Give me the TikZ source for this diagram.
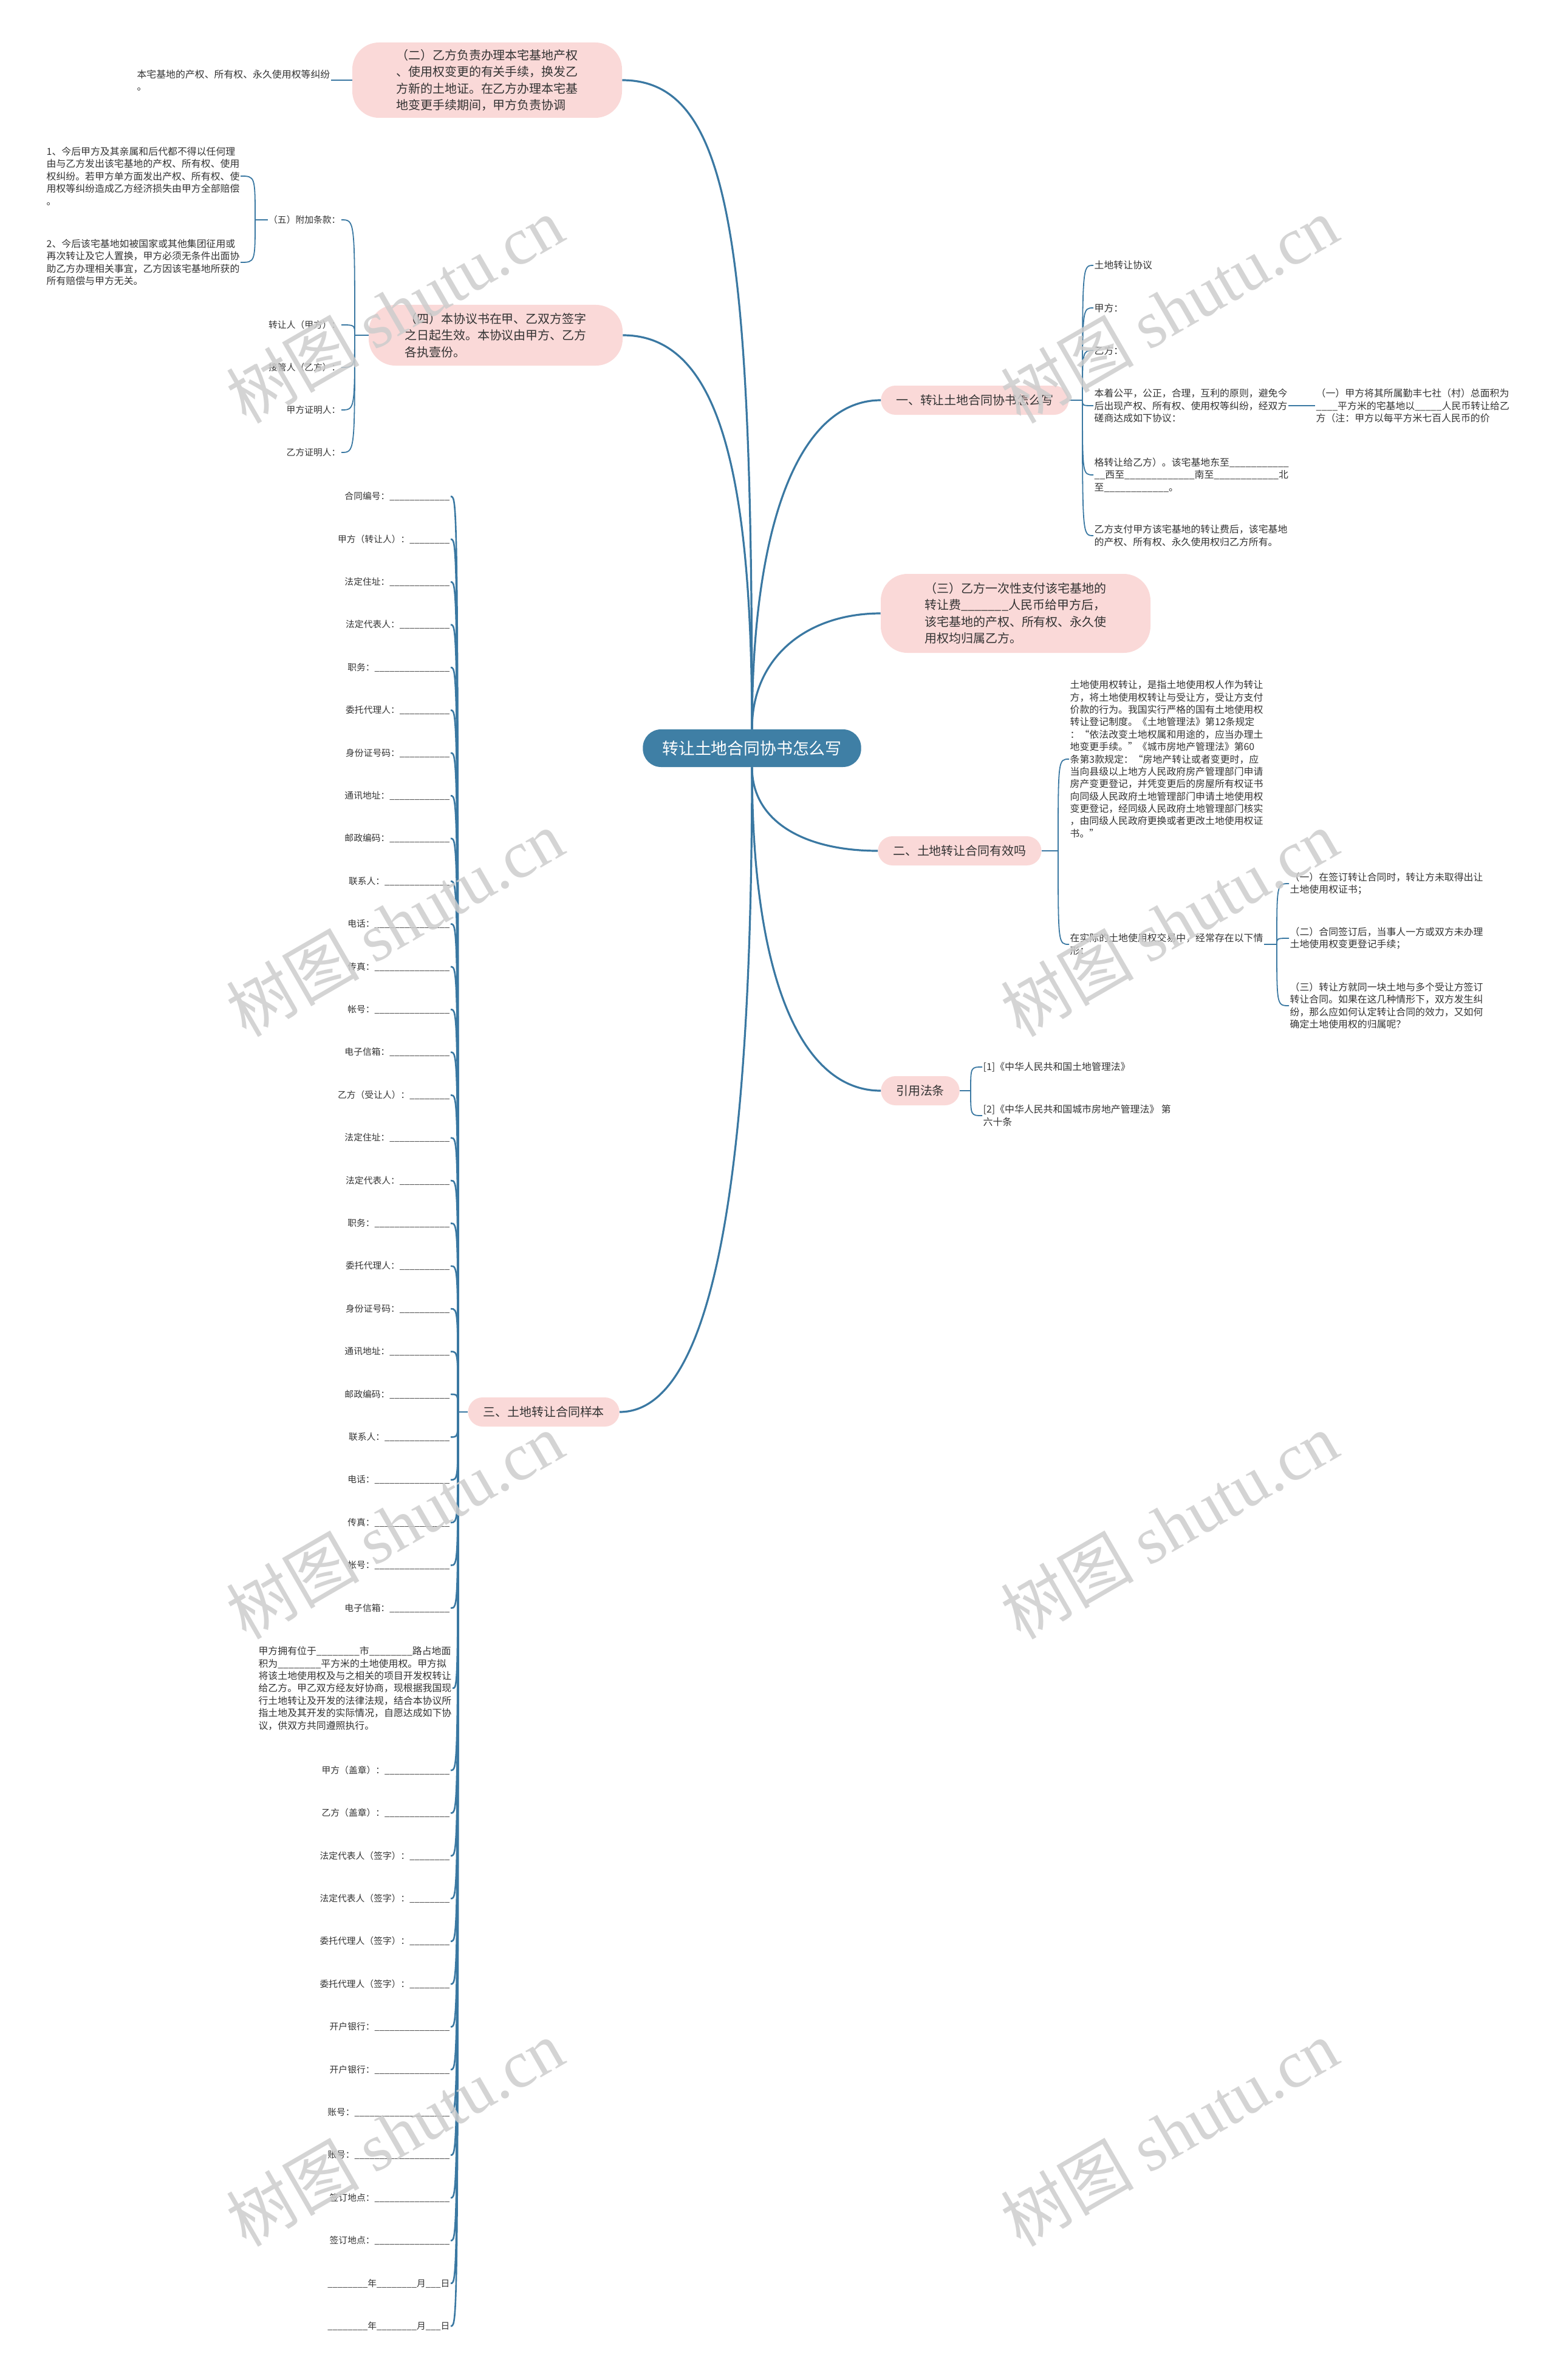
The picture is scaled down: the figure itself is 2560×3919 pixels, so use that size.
\documentclass[tikz,border=0pt]{standalone}
\usepackage{fontspec}
\setmainfont{Noto Sans CJK SC}
\newfontfamily\wmlatin{Liberation Serif}
\usepackage{tikz}
\usepackage{xcolor}
\usetikzlibrary{positioning}
\definecolor{rootblue}{HTML}{3F7FA5}
\definecolor{linkblue}{HTML}{3A78A2}
\definecolor{pinkfill}{HTML}{FAD9D8}
\definecolor{inkgray}{HTML}{333333}
\definecolor{markgray}{HTML}{CDCDCD}
\newcommand{\blank}[1]{\foreach \n in {1,...,#1}{\_}}
\tikzset{
    rootbox/.style={fill=rootblue, text=white, rounded corners=7.5mm, minimum height=15.5mm, inner xsep=8mm, font=\fontsize{19.1}{24}\selectfont},
    topic/.style={fill=pinkfill, text=inkgray, rounded corners=6mm, minimum height=12mm, inner xsep=6.2mm, font=\fontsize{14.2}{19.5}\selectfont},
    topicbox/.style={fill=pinkfill, text=inkgray, rounded corners=11mm, align=left, font=\fontsize{14.2}{19.5}\selectfont},
    leaf/.style={text=inkgray, align=left, inner sep=1pt, font=\fontsize{11.3}{14.5}\selectfont},
    formleaf/.style={text=inkgray, inner sep=1pt, font=\fontsize{10.5}{14}\selectfont},
    branch/.style={draw=linkblue, line width=0.8mm},
    twig/.style={draw=linkblue, line width=0.45mm},
    formtwig/.style={draw=linkblue, line width=0.65mm},
    wmark/.style={text=markgray, rotate=30, text opacity=0.85, font=\fontsize{78}{80}\selectfont}
}

\begin{document}
\begin{tikzpicture}[x=0.25mm, y=-0.25mm]
    \useasboundingbox (0,0) rectangle (2560,3919);
    \fill[white] (0,0) rectangle (2560,3919);

    \node[rootbox] (root) at (1238,1232) {转让土地合同协书怎么写};

    % upper left
    \node[topicbox, minimum width=111mm, minimum height=31mm] (n2) at (802,132) {（二）乙方负责办理本宅基地产权\\、使用权变更的有关手续，换发乙\\方新的土地证。在乙方办理本宅基\\地变更手续期间，甲方负责协调};
    \node[leaf, anchor=east] (n2a) at (545,132) {本宅基地的产权、所有权、永久使用权等纠纷\\。};

    \node[topicbox, minimum width=104.5mm, minimum height=25mm] (n4) at (816,552) {（四）本协议书在甲、乙双方签字\\之日起生效。本协议由甲方、乙方\\各执壹份。};
    \node[formleaf, anchor=east] (n4a) at (562,362) {（五）附加条款：};
    \node[formleaf, anchor=east] (n4b) at (562,535) {转让人（甲方）：};
    \node[formleaf, anchor=east] (n4c) at (562,605) {接管人（乙方）：};
    \node[formleaf, anchor=east] (n4d) at (562,675) {甲方证明人：};
    \node[formleaf, anchor=east] (n4e) at (562,745) {乙方证明人：};
    \node[leaf, anchor=west] (n4a1) at (75,290) {1、今后甲方及其亲属和后代都不得以任何理\\由与乙方发出该宅基地的产权、所有权、使用\\权纠纷。若甲方单方面发出产权、所有权、使\\用权等纠纷造成乙方经济损失由甲方全部赔偿\\。};
    \node[leaf, anchor=west] (n4a2) at (75,432) {2、今后该宅基地如被国家或其他集团征用或\\再次转让及它人置换，甲方必须无条件出面协\\助乙方办理相关事宜，乙方因该宅基地所获的\\所有赔偿与甲方无关。};

    % right side
    \node[topic, anchor=west] (n1) at (1450,659) {一、转让土地合同协书怎么写};
    \node[leaf, anchor=west] (n1a) at (1800,437) {土地转让协议};
    \node[leaf, anchor=west] (n1b) at (1800,507) {甲方：};
    \node[leaf, anchor=west] (n1c) at (1800,577) {乙方：};
    \node[leaf, anchor=west] (n1d) at (1800,668) {本着公平，公正，合理，互利的原则，避免今\\后出现产权、所有权、使用权等纠纷，经双方\\磋商达成如下协议：};
    \node[leaf, anchor=west] (n1e) at (1800,782) {格转让给乙方）。该宅基地东至\blank{11}\\\blank{2}西至\blank{13}南至\blank{12}北\\至\blank{12}。};
    \node[leaf, anchor=west] (n1f) at (1800,882) {乙方支付甲方该宅基地的转让费后，该宅基地\\的产权、所有权、永久使用权归乙方所有。};
    \node[leaf, anchor=west] (n1d1) at (2165,668) {（一）甲方将其所属勤丰七社（村）总面积为\\\blank{4}平方米的宅基地以\blank{5}人民币转让给乙\\方（注：甲方以每平方米七百人民币的价};

    \node[topicbox, minimum width=111mm, minimum height=32.5mm] (n3) at (1672,1010) {（三）乙方一次性支付该宅基地的\\转让费\blank{7}人民币给甲方后，\\该宅基地的产权、所有权、永久使\\用权均归属乙方。};

    \node[topic, anchor=west] (nB) at (1445,1401) {二、土地转让合同有效吗};
    \node[leaf, anchor=west] (nB1) at (1760,1250) {土地使用权转让，是指土地使用权人作为转让\\方，将土地使用权转让与受让方，受让方支付\\价款的行为。我国实行严格的国有土地使用权\\转让登记制度。《土地管理法》第12条规定\\：“依法改变土地权属和用途的，应当办理土\\地变更手续。”《城市房地产管理法》第60\\条第3款规定：“房地产转让或者变更时，应\\当向县级以上地方人民政府房产管理部门申请\\房产变更登记，并凭变更后的房屋所有权证书\\向同级人民政府土地管理部门申请土地使用权\\变更登记，经同级人民政府土地管理部门核实\\，由同级人民政府更换或者更改土地使用权证\\书。”};
    \node[leaf, anchor=west] (nB2) at (1760,1555) {在实际的土地使用权交易中，经常存在以下情\\形：};
    \node[leaf, anchor=west] (nB21) at (2122,1455) {（一）在签订转让合同时，转让方未取得出让\\土地使用权证书；};
    \node[leaf, anchor=west] (nB22) at (2122,1545) {（二）合同签订后，当事人一方或双方未办理\\土地使用权变更登记手续；};
    \node[leaf, anchor=west] (nB23) at (2122,1656) {（三）转让方就同一块土地与多个受让方签订\\转让合同。如果在这几种情形下，双方发生纠\\纷，那么应如何认定转让合同的效力，又如何\\确定土地使用权的归属呢？};

    \node[topic, anchor=west] (nR) at (1450,1796) {引用法条};
    \node[leaf, anchor=west] (nR1) at (1617,1757) {[1]《中华人民共和国土地管理法》};
    \node[leaf, anchor=west] (nR2) at (1617,1837) {[2]《中华人民共和国城市房地产管理法》 第\\六十条};

    % contract sample
    \node[topic, anchor=east] (nS) at (1020,2325) {三、土地转让合同样本};
    \foreach \lbl [count=\i] in {合同编号：\blank{12}, 甲方（转让人）：\blank{8}, 法定住址：\blank{12}, 法定代表人：\blank{10}, 职务：\blank{15}, 委托代理人：\blank{10}, 身份证号码：\blank{10}, 通讯地址：\blank{12}, 邮政编码：\blank{12}, 联系人：\blank{13}, 电话：\blank{15}, 传真：\blank{15}, 帐号：\blank{15}, 电子信箱：\blank{12}, 乙方（受让人）：\blank{8}, 法定住址：\blank{12}, 法定代表人：\blank{10}, 职务：\blank{15}, 委托代理人：\blank{10}, 身份证号码：\blank{10}, 通讯地址：\blank{12}, 邮政编码：\blank{12}, 联系人：\blank{13}, 电话：\blank{15}, 传真：\blank{15}, 帐号：\blank{15}, 电子信箱：\blank{12}}
        \node[formleaf, anchor=east] (s\i) at (742,{817.5+70.4*(\i-1)}) {\lbl};
    \node[leaf, anchor=east] (sp) at (745,2780) {甲方拥有位于\blank{8}市\blank{8}路占地面\\积为\blank{8}平方米的土地使用权。甲方拟\\将该土地使用权及与之相关的项目开发权转让\\给乙方。甲乙双方经友好协商，现根据我国现\\行土地转让及开发的法律法规，结合本协议所\\指土地及其开发的实际情况，自愿达成如下协\\议，供双方共同遵照执行。};
    \foreach \lbl [count=\i] in {甲方（盖章）：\blank{13}, 乙方（盖章）：\blank{13}, 法定代表人（签字）：\blank{8}, 法定代表人（签字）：\blank{8}, 委托代理人（签字）：\blank{8}, 委托代理人（签字）：\blank{8}, 开户银行：\blank{15}, 开户银行：\blank{15}, 账号：\blank{19}, 账号：\blank{19}, 签订地点：\blank{15}, 签订地点：\blank{15}, \blank{8}年\blank{8}月\blank{3}日, \blank{8}年\blank{8}月\blank{3}日}
        \node[formleaf, anchor=east] (t\i) at (742,{2915+70.4*(\i-1)}) {\lbl};

    % main branches
    \draw[branch] (root.north) .. controls +(0,-800) and +(180,0) .. (n2.east);
    \draw[branch] (root.north) .. controls +(0,-450) and +(150,0) .. (n4.east);
    \draw[branch] (root.north) .. controls +(0,-350) and +(-130,0) .. (n1.west);
    \draw[branch] (root.north) .. controls +(0,-120) and +(-120,0) .. (n3.west);
    \draw[branch] (root.south) .. controls +(0,90) and +(-120,0) .. (nB.west);
    \draw[branch] (root.south) .. controls +(0,350) and +(-130,0) .. (nR.west);
    \draw[branch] (root.south) .. controls +(0,700) and +(150,0) .. (nS.east);

    % sub branches
    \draw[twig] (n2.west) -- (n2a.east);
    \coordinate (j4) at (584,552);
    \draw[twig] (n4.west) -- (j4);
    \foreach \c in {n4a,n4b,n4c,n4d,n4e}
        \draw[twig] (j4) .. controls (j4 |- \c.east) .. (\c.east);
    \coordinate (j4a) at (420,362);
    \draw[twig] (n4a.west) -- (j4a);
    \foreach \c in {n4a1,n4a2}
        \draw[twig] (j4a) .. controls (j4a |- \c.east) .. (\c.east);

    \coordinate (j1) at (1782,659);
    \draw[twig] (n1.east) -- (j1);
    \foreach \c in {n1a,n1b,n1c,n1d,n1e,n1f}
        \draw[twig] (j1) .. controls (j1 |- \c.west) .. (\c.west);
    \draw[twig] (n1d.east) -- (n1d1.west);

    \coordinate (jB) at (1742,1401);
    \draw[twig] (nB.east) -- (jB);
    \foreach \c in {nB1,nB2}
        \draw[twig] (jB) .. controls (jB |- \c.west) .. (\c.west);
    \coordinate (jB2) at (2102,1555);
    \draw[twig] (nB2.east) -- (jB2);
    \foreach \c in {nB21,nB22,nB23}
        \draw[twig] (jB2) .. controls (jB2 |- \c.west) .. (\c.west);

    \coordinate (jR) at (1598,1796);
    \draw[twig] (nR.east) -- (jR);
    \foreach \c in {nR1,nR2}
        \draw[twig] (jR) .. controls (jR |- \c.west) .. (\c.west);

    \coordinate (jS) at (754,2325);
    \draw[formtwig] (nS.west) -- (jS);
    \foreach \i in {1,...,27}
        \draw[formtwig] (jS) .. controls (jS |- s\i.east) .. (s\i.east);
    \draw[formtwig] (jS) .. controls (jS |- sp.east) .. (sp.east);
    \foreach \i in {1,...,14}
        \draw[formtwig] (jS) .. controls (jS |- t\i.east) .. (t\i.east);

    % watermark
    \foreach \wx/\wy [count=\w] in {650/510, 1925/510, 650/1520, 1925/1520, 650/2512, 1925/2512, 650/3512, 1925/3512}
        \node[wmark] (wm\w) at (\wx,\wy) {树图 {\wmlatin shutu.cn}};
\end{tikzpicture}
\end{document}
